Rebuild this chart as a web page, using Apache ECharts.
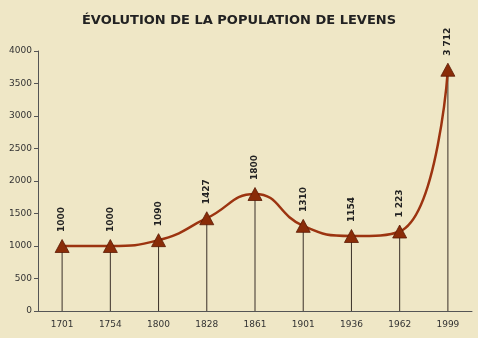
<!DOCTYPE html>
<html><head><meta charset="utf-8">
<script src="https://cdn.jsdelivr.net/npm/echarts@6/dist/echarts.min.js"></script>
<style>html,body{margin:0;padding:0;background:#efe7c6;}#c{width:478px;height:338px;}</style>
</head><body><div id="c"></div>
<script>
const categories = ['1701','1754','1800','1828','1861','1901','1936','1962','1999'];
const population = [1000, 1000, 1090, 1427, 1800, 1310, 1154, 1223, 3712];
const valueLabels = ['1000','1000','1090','1427','1800','1310','1154','1 223','3 712'];
const yTicks = [0, 500, 1000, 1500, 2000, 2500, 3000, 3500, 4000];

const chart = echarts.init(document.getElementById('c'), null, {renderer:'canvas'});
chart.setOption({
  backgroundColor: '#efe7c6',
  animation: false,
  title: {
    text: 'ÉVOLUTION DE LA POPULATION DE LEVENS',
    left: 'center', top: 9,
    textStyle: {fontFamily:'DejaVu Sans', fontSize: 13, fontWeight:'bold', color:'#222'}
  },
  grid: {left: 38, right: 6, top: 51, bottom: 27},
  xAxis: {
    type: 'category', data: categories, boundaryGap: true,
    axisLine: {lineStyle: {color:'#555', width: 1}},
    axisTick: {show: false},
    axisLabel: {fontFamily:'DejaVu Sans', fontSize: 9, color:'#333', margin: 9}
  },
  yAxis: {
    type: 'value', min: yTicks[0], max: yTicks[yTicks.length-1], interval: 500,
    axisLine: {show: true, lineStyle: {color:'#555', width: 1}},
    axisTick: {show: true, length: 4, lineStyle: {color:'#555'}},
    splitLine: {show: false},
    axisLabel: {fontFamily:'DejaVu Sans', fontSize: 9, color:'#333', margin: 6, formatter: v => String(v)}
  },
  series: [
    {
      type: 'bar', data: population, barWidth: 1, silent: true, z: 1,
      itemStyle: {color: '#3a3028'}
    },
    {
      type: 'line', data: population, smooth: 0.5, z: 3,
      symbol: 'triangle', symbolSize: [14, 13],
      lineStyle: {color: '#9c3410', width: 2.5},
      itemStyle: {color: '#8a2c08', borderColor: '#5a1a04', borderWidth: 0.8},
      label: {
        show: true, position: 'top', rotate: 90, distance: 7, align: 'left', verticalAlign: 'middle',
        fontFamily: 'DejaVu Sans', fontSize: 9, fontWeight: 'bold', color: '#222',
        formatter: p => valueLabels[p.dataIndex]
      }
    }
  ]
});
</script></body></html>
